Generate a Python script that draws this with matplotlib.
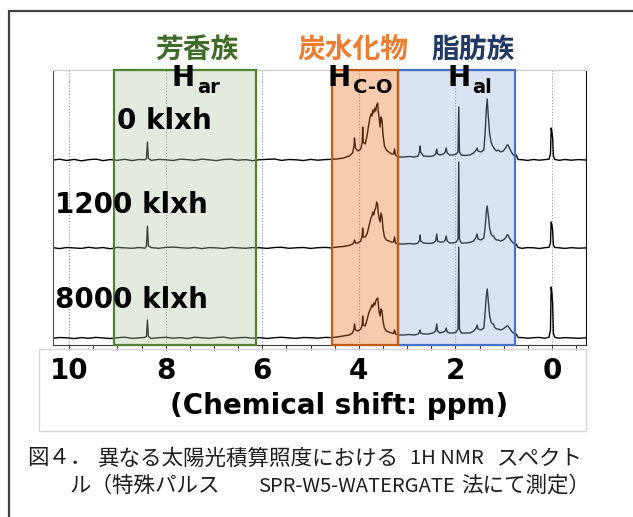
import numpy as np
import matplotlib.pyplot as plt
from matplotlib.patches import Rectangle
from matplotlib.ticker import MultipleLocator

plt.rcParams['font.family'] = ['DejaVu Sans', 'Noto Sans CJK JP']

# chemical shift points shared by the three spectra (ppm)
ppm = [
    10.33, 10.2, 10.05, 9.9, 9.75, 9.6, 9.45, 9.3, 9.15, 9.0, 8.85, 8.7, 8.55, 8.43,
    8.40, 8.38, 8.36,
    8.3, 8.15, 8.0, 7.85, 7.7, 7.55, 7.4, 7.25, 7.1, 6.95, 6.8, 6.65, 6.5,
    6.35, 6.2, 6.05, 5.9, 5.75, 5.6, 5.45, 5.3, 5.15, 5.0, 4.85, 4.7, 4.58,
    4.45, 4.32, 4.2, 4.13, 4.10, 4.09, 4.07, 4.02, 3.96, 3.93, 3.92, 3.91,
    3.87, 3.83, 3.80, 3.77, 3.75, 3.73, 3.71, 3.69, 3.67, 3.65, 3.63, 3.61,
    3.60, 3.58, 3.56, 3.54, 3.52, 3.50, 3.47, 3.43, 3.38, 3.32, 3.28, 3.26,
    3.24, 3.18,
    3.08, 2.95, 2.85, 2.77, 2.74, 2.73, 2.72, 2.66, 2.56, 2.46, 2.41,
    2.385, 2.37, 2.32, 2.25, 2.21, 2.19, 2.17, 2.12, 2.05, 1.98, 1.945,
    1.93, 1.915, 1.88, 1.8, 1.7, 1.62, 1.57, 1.55, 1.53, 1.47, 1.41,
    1.38, 1.36, 1.34, 1.32, 1.29, 1.26, 1.23, 1.21, 1.19, 1.15, 1.11,
    1.06, 1.01, 0.96, 0.93, 0.91, 0.88, 0.84, 0.80, 0.77, 0.74, 0.70,
    0.62, 0.5, 0.38, 0.26, 0.15, 0.06, 0.03, 0.015, 0.0, -0.015, -0.03, -0.06,
    -0.15, -0.27, -0.4, -0.55, -0.7,
]

# intensities (arbitrary units)
int_0 = [
    0.0, 0.8, -0.5, 0.6, -0.8, 0.3, 0.9, -0.6, 0.4, -0.3, 0.7, -0.6, 0.5, 0.2,
    1.5, 18, 1.5,
    -0.4, 0.6, 0.2, -0.5, 0.8, 0.4, -0.3, 0.9, 0.1, -0.6, 0.5, 0.8, -0.2,
    0.4, -0.7, 0.3, 0.6, 1.0, -0.4, 0.5, 0.2, -0.5, 0.6, -0.2, 0.4, 0.6,
    1, 2, 4, 7, 14, 22, 12, 9, 11, 18, 33, 18,
    16, 24, 34, 42, 46, 44, 50, 47, 52, 49, 55, 57,
    50, 42, 33, 43, 40, 26, 14, 10, 8, 6, 6, 11,
    5, 3,
    3, 3.5, 3, 4, 9, 14, 8, 4, 3.5, 4, 6,
    11, 6, 5, 6, 8, 12, 7, 5, 5, 6, 8,
    53, 8, 5, 4.5, 5, 7, 10, 12, 9, 8, 10,
    30, 50, 61, 45, 26, 18, 14, 13, 11, 9, 10,
    8, 9, 12, 15, 15, 12, 8, 5, 4, 5, 0.5,
    0.3, -0.4, 0.5, -0.2, 0.4, 0.8, 6, 32, 28, 22, 4, 0.6,
    -0.3, 0.5, -0.2, 0.4, 0.0,
]
int_1200 = [
    0.3, -0.6, 0.5, 0.1, -0.4, 0.7, -0.2, 0.4, -0.7, 0.6, 0.2, -0.3, 0.5, -0.2,
    2, 22, 2,
    0.4, -0.3, 0.6, 0.9, 0.3, -0.2, 0.5, -0.6, 0.4, 0.1, -0.5, 0.6, 0.2,
    -0.3, 0.4, 0.2, -0.4, 0.5, 0.7, -0.3, 0.2, 0.5, -0.4, 0.3, 0.6, 0.2,
    1, 1.5, 2.5, 4, 6, 8, 5, 5, 7, 12, 20, 11,
    11, 14, 20, 26, 30, 32, 36, 33, 38, 40, 46, 43,
    36, 30, 26, 35, 31, 20, 11, 8, 7, 6, 6, 11,
    5, 4,
    4, 4.5, 4, 5, 8, 13, 7, 5, 4.5, 5, 7,
    14, 7, 6, 6, 8, 12, 7, 5, 5, 6, 9,
    86, 9, 5, 5, 5.5, 7, 11, 14, 9, 8, 10,
    22, 36, 42, 33, 20, 14, 12, 12, 10, 8, 8,
    7, 8, 10, 13, 13, 10, 7, 5, 4, 4, 0.5,
    -0.3, 0.4, 0.2, -0.5, 0.3, 0.7, 5, 26, 23, 18, 3, 0.5,
    0.2, -0.4, 0.3, -0.2, 0.1,
]
int_8000 = [
    -0.2, 0.5, 0.2, -0.6, 0.4, -0.3, 0.6, 0.1, -0.5, 0.3, 0.8, -0.4, 0.2, 0.6,
    1.5, 18, 1.5,
    -0.5, 0.3, 0.7, -0.2, 0.4, -0.6, 0.8, 0.2, -0.3, 0.5, 0.9, -0.4, 0.3,
    0.6, -0.2, 0.4, -0.5, 0.3, 0.7, 0.1, -0.4, 0.5, 0.3, -0.2, 0.6, 0.4,
    1, 2, 3, 5, 9, 14, 8, 7, 9, 13, 22, 13,
    12, 18, 24, 28, 30, 33, 31, 35, 33, 37, 39, 40,
    35, 26, 22, 29, 27, 17, 10, 7, 6, 5, 4.5, 8,
    4, 3,
    3, 3.5, 3, 4, 6, 8, 5, 4, 4, 5, 7,
    14, 7, 5, 6, 7, 10, 6, 5, 5, 6, 9,
    91, 9, 5, 5, 5, 7, 10, 13, 9, 8, 10,
    28, 42, 49, 38, 22, 16, 14, 14, 11, 9, 9,
    8, 9, 11, 12, 12, 10, 7, 5, 4, 4, 0.5,
    0.4, -0.2, 0.3, 0.6, -0.3, 0.8, 8, 51, 45, 35, 5, 0.6,
    -0.2, 0.4, 0.1, -0.3, 0.2,
]
spectra = [int_0, int_1200, int_8000]
sample_labels = ['0 klxh', '1200 klxh', '8000 klxh']

region_names = ['芳香族', '炭水化物', '脂肪族']
region_subs = ['ar', 'C-O', 'al']
region_ppm = [(9.07, 6.14), (4.55, 3.18), (3.18, 0.76)]

caption_1 = ['図４．', '異なる太陽光積算照度における', '1H NMR', 'スペクト']
caption_2 = ['ル（特殊パルス', 'SPR-W5-WATERGATE', '法にて測定）']

W, H = 633, 517
def fx(x):
    return x / W
def fy(y):
    return 1 - y / H

fig = plt.figure(figsize=(W / 100, H / 100), dpi=100)

# outer frame (cut off on the right and bottom)
fig.add_artist(Rectangle((fx(8.5), -0.2), 1.5, fy(11) + 0.2, transform=fig.transFigure,
                         fill=False, edgecolor='#404040', lw=1.6))
# light panel behind the tick labels
fig.add_artist(Rectangle((fx(39), fy(431)), fx(586) - fx(39), (431 - 349) / H,
                         transform=fig.transFigure, fill=False, edgecolor='#d6d6d6', lw=1))

ax = fig.add_axes([fx(53.3), fy(345), fx(585.7) - fx(53.3), (345 - 70) / H])
ax.set_xlim(10.33, -0.70)
ax.set_ylim(0, 275)

offsets = [185, 97, 7]
for vals, off in zip(spectra, offsets):
    ax.plot(ppm, np.array(vals) + off, color='black', lw=1.0, zorder=2)

fills = ['#acc6a1', '#eb6a15', '#95afdd']
edges = ['#548235', '#c55a11', '#4472c4']
for i in [0, 2, 1]:
    lo, hi = region_ppm[i]
    ax.axvspan(lo, hi, facecolor=fills[i], alpha=0.35, edgecolor='none', zorder=3)
    ax.axvspan(lo, hi, facecolor='none', edgecolor=edges[i], lw=1.6, zorder=4, clip_on=False)

ax.set_xticks([10, 8, 6, 4, 2, 0])
ax.xaxis.set_minor_locator(MultipleLocator(0.5))
ax.tick_params(axis='x', which='both', direction='out', length=3.5, width=0.8,
               color='#404040', pad=5, labelsize=20)
for t in ax.get_xticklabels():
    t.set_fontweight('bold')
ax.set_yticks([])
ax.grid(axis='x', which='major', ls=':', color='#9a9a9a', lw=0.8, zorder=1)
ax.set_axisbelow(True)
ax.spines['top'].set_color('#c8c8c8')
ax.spines['left'].set_color('#505050')
ax.spines['right'].set_color('#111111')
ax.spines['bottom'].set_color('#404040')

fig.text(fx(339.5), fy(406), '(Chemical shift: ppm)', fontsize=20, fontweight='bold',
         ha='center', va='center')

# sample labels
for lab, x, y in zip(sample_labels, [117, 55, 55], [129, 213, 308]):
    fig.text(fx(x), fy(y), lab, fontsize=20, fontweight='bold', ha='left', va='baseline', zorder=6)

# region names and H labels
label_colors = ['#3f6b28', '#ed7d31', '#203864']
for name, col, cx in zip(region_names, label_colors, [197, 353, 473]):
    fig.text(fx(cx), fy(58), name, fontsize=20, fontweight='bold', color=col,
             family=['Noto Sans CJK JP'], ha='center', va='baseline')
for sub, hx, sx in zip(region_subs, [172, 328, 448], [197, 353, 472]):
    fig.text(fx(hx), fy(86), 'H', fontsize=20, fontweight='bold', ha='left', va='baseline', zorder=6)
    fig.text(fx(sx), fy(93), sub, fontsize=14, fontweight='bold', ha='left', va='baseline', zorder=6)

# caption
cap_font = dict(color='#1e1e1e', family=['Noto Sans CJK JP'], va='center', ha='left')
for seg, x, fs in zip(caption_1, [27, 98, 410, 497], [15.5, 15.5, 14.5, 15.5]):
    fig.text(fx(x), fy(458.5), seg, fontsize=fs, **cap_font)
for seg, x, fs in zip(caption_2, [70, 258, 461], [15.5, 14.5, 15.5]):
    fig.text(fx(x), fy(486), seg, fontsize=fs, **cap_font)

fig.savefig('out.png', dpi=100)
